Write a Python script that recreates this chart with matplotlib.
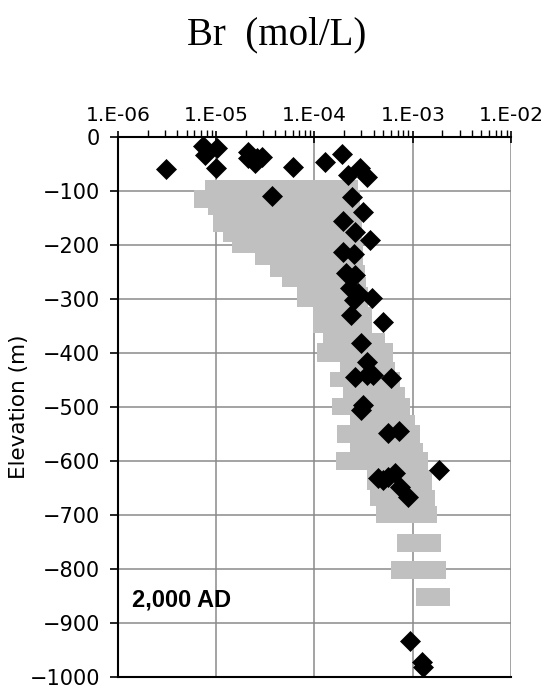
import numpy as np
import matplotlib
matplotlib.use("Agg")
import matplotlib.pyplot as plt
from matplotlib.ticker import FixedLocator, FuncFormatter, LogLocator, NullFormatter

# Modell-Bereich (graue Bänder): Elevation oben/unten, Konzentration min/max
band_top = [-80, -98, -132, -144, -176, -194, -215, -237, -259, -278, -315, -363,
            -382, -417, -435, -463, -483, -515, -533, -567, -583, -617, -654, -683,
            -735, -785, -835]
band_bottom = [-98, -132, -144, -176, -194, -215, -237, -259, -278, -315, -363, -382,
               -417, -435, -463, -483, -515, -533, -567, -583, -617, -654, -683, -715,
               -769, -819, -869]
band_low = [7.7e-6, 5.9e-6, 8.2e-6, 9.3e-6, 1.17e-5, 1.45e-5, 2.5e-5, 3.5e-5, 4.7e-5,
            6.6e-5, 9.7e-5, 1.22e-4, 1.06e-4, 1.82e-4, 1.44e-4, 1.95e-4, 1.51e-4,
            2.3e-4, 1.7e-4, 2.3e-4, 1.66e-4, 3.42e-4, 3.67e-4, 4.23e-4,
            6.9e-4, 6.0e-4, 1.08e-3]
band_high = [2.77e-4, 2.9e-4, 2.9e-4, 3.04e-4, 3.04e-4, 3.12e-4, 3.12e-4, 3.27e-4,
             3.34e-4, 3.51e-4, 3.85e-4, 5.2e-4, 6.3e-4, 6.6e-4, 7.4e-4, 8.3e-4, 9.4e-4,
             1.05e-3, 1.19e-3, 1.27e-3, 1.43e-3, 1.57e-3, 1.68e-3, 1.76e-3,
             1.94e-3, 2.18e-3, 2.39e-3]

# Messwerte (schwarze Rauten)
br_meas = [3.1e-6, 7.3e-6, 7.7e-6, 1.02e-5, 9.9e-6, 2.1e-5, 2.1e-5, 2.6e-5, 2.9e-5,
           2.5e-5, 6.0e-5, 1.28e-4, 1.9e-4, 2.2e-4, 2.9e-4, 3.4e-4, 3.7e-5, 2.4e-4,
           3.1e-4, 1.95e-4, 2.6e-4, 3.7e-4, 1.95e-4, 2.5e-4, 2.1e-4, 2.6e-4, 2.3e-4,
           2.8e-4, 2.5e-4, 3.85e-4, 2.35e-4, 5.0e-4, 3.0e-4, 3.4e-4, 2.6e-4, 3.4e-4,
           3.9e-4, 6.0e-4, 3.1e-4, 3.0e-4, 5.6e-4, 7.2e-4, 1.85e-3, 4.4e-4, 5.6e-4,
           6.6e-4, 5.0e-4, 7.4e-4, 9.0e-4, 9.4e-4, 1.24e-3, 1.27e-3]
elev_meas = [-59, -17, -33, -20, -57, -28, -39, -39, -37, -48, -56, -46, -31, -70,
             -57, -74, -109, -111, -139, -156, -176, -191, -213, -217, -252, -256,
             -280, -289, -302, -298, -330, -343, -381, -417, -444, -441, -441, -446,
             -496, -506, -548, -544, -617, -631, -630, -622, -635, -648, -667, -933,
             -972, -981]

x_ticks = [1e-6, 1e-5, 1e-4, 1e-3, 1e-2]
y_ticks = list(range(-1000, 1, 100))

fig = plt.figure(figsize=(5.48, 6.9), dpi=100)
ax = fig.add_axes([0.2153, 0.0188, 0.7172, 0.7826])

ax.set_xscale('log')
ax.set_xlim(1e-6, 1e-2)
ax.set_ylim(-1000, 0)

# graue Modellbänder
heights = [t - b for t, b in zip(band_top, band_bottom)]
widths = [h - l for h, l in zip(band_high, band_low)]
ax.barh(band_bottom, widths, height=heights, left=band_low, align='edge',
        color='#c0c0c0', linewidth=0, zorder=2)

ax.plot(br_meas, elev_meas, linestyle='none', marker='D', markersize=10.5,
        color='black', markeredgewidth=0.5, zorder=3)

# Gitter
ax.grid(True, which='major', color='#8a8a8a', linewidth=1.1, zorder=1)
ax.set_axisbelow(True)

ax.xaxis.tick_top()
ax.xaxis.set_major_locator(FixedLocator(x_ticks))
ax.xaxis.set_minor_locator(LogLocator(base=10, subs=np.arange(2, 10)))
ax.xaxis.set_minor_formatter(NullFormatter())
ax.xaxis.set_major_formatter(FuncFormatter(lambda v, p: '1.E-%02d' % round(-np.log10(v))))
ax.yaxis.set_major_locator(FixedLocator(y_ticks))

ax.tick_params(axis='x', which='major', direction='inout', length=9, width=1.2,
               labelsize=14.5, pad=4)
ax.tick_params(axis='x', which='minor', direction='out', length=5, width=1.0)
ax.tick_params(axis='y', which='major', direction='out', length=6, width=1.2,
               labelsize=15, pad=7)

for s in ['left', 'top', 'bottom']:
    ax.spines[s].set_color('black')
    ax.spines[s].set_linewidth(1.5)
ax.spines['right'].set_visible(False)

ax.set_ylabel('Elevation (m)', fontsize=15.5, labelpad=0)

ax.text(0.035, 0.143, '2,000 AD', transform=ax.transAxes, fontsize=17,
        family='Liberation Sans', fontweight='bold', va='center', ha='left')

fig.text(0.505, 0.949, 'Br  (mol/L)', family='Liberation Serif', fontsize=28,
         ha='center', va='center')

plt.savefig('out.png', dpi=100)
